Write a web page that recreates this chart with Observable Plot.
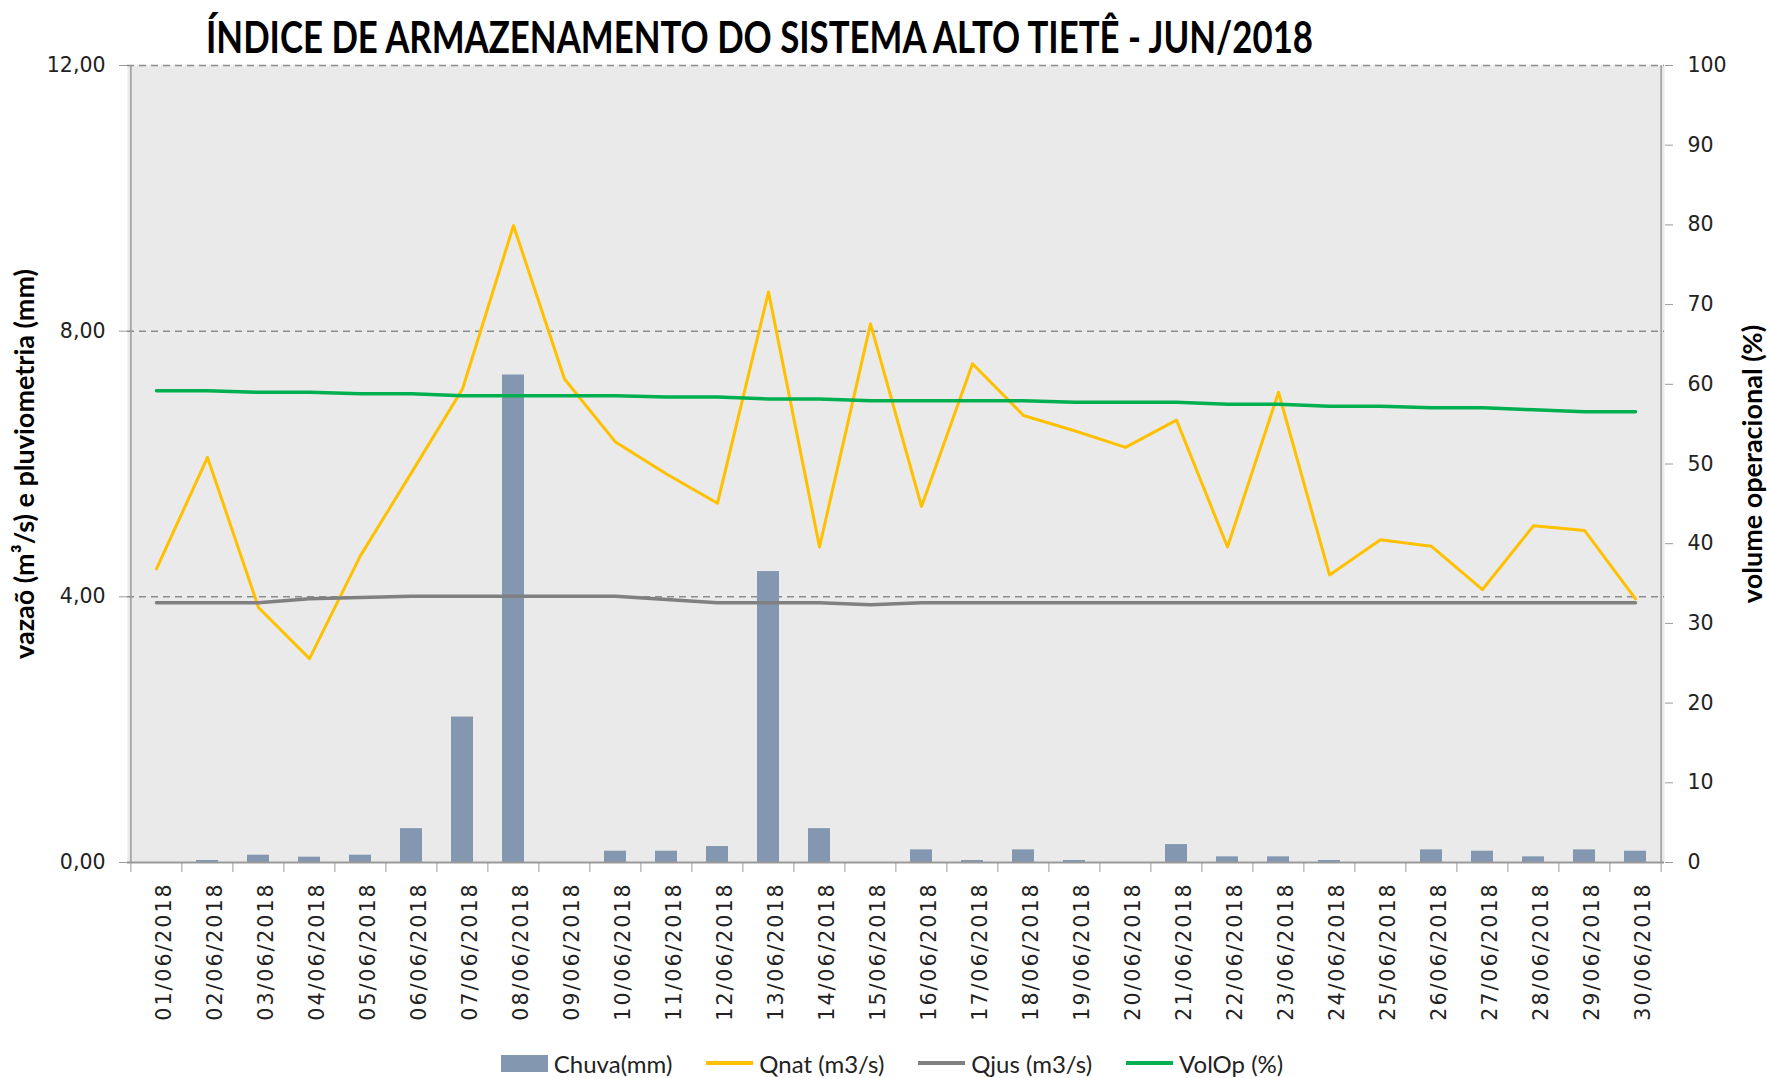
<!DOCTYPE html>
<html><head><meta charset="utf-8">
<script src="https://cdn.jsdelivr.net/npm/d3@7"></script>
<script src="https://cdn.jsdelivr.net/npm/@observablehq/plot@0.6"></script>
<style>
body{margin:0;background:#fff;}
#wrap{position:relative;width:1767px;height:1078px;overflow:hidden;background:#fff;}
#title{position:absolute;left:206px;top:14px;font-family:Lato,"Open Sans",sans-serif;font-weight:700;font-size:44px;white-space:nowrap;transform-origin:left top;color:#000;line-height:1;z-index:2;}
#chart{position:absolute;left:0;top:40px;}
#legend{position:absolute;left:0;top:1045px;width:1784px;height:36px;display:flex;justify-content:center;align-items:center;font-family:Lato,"Open Sans",sans-serif;font-size:24px;color:#222;}
.item{display:flex;align-items:center;margin:0 17px;}
.sw{width:47px;margin-right:6px;}
.dates text{letter-spacing:2px;}
</style></head>
<body>
<div id="wrap">
  <div id="title"></div>
  <div id="chart"></div>
  <div id="legend"></div>
</div>
<script>
const titleText = "ÍNDICE DE ARMAZENAMENTO DO SISTEMA ALTO TIETÊ - JUN/2018";
const leftLabel = "vazaõ (m³/s) e pluviometria (mm)";
const rightLabel = "volume operacional (%)";

const dates = ["01/06/2018","02/06/2018","03/06/2018","04/06/2018","05/06/2018","06/06/2018","07/06/2018","08/06/2018","09/06/2018","10/06/2018",
  "11/06/2018","12/06/2018","13/06/2018","14/06/2018","15/06/2018","16/06/2018","17/06/2018","18/06/2018","19/06/2018","20/06/2018",
  "21/06/2018","22/06/2018","23/06/2018","24/06/2018","25/06/2018","26/06/2018","27/06/2018","28/06/2018","29/06/2018","30/06/2018"];
const chuva = [0, 0.03, 0.11, 0.08, 0.11, 0.51, 2.19, 7.34, 0, 0.17, 0.17, 0.24, 4.38, 0.51, 0, 0.19, 0.03, 0.19, 0.03, 0, 0.27, 0.085, 0.085, 0.03, 0, 0.19, 0.17, 0.085, 0.19, 0.17];
const qnat = [4.42, 6.10, 3.84, 3.07, 4.62, 5.87, 7.13, 9.59, 7.28, 6.33, 5.85, 5.41, 8.59, 4.75, 8.11, 5.36, 7.51, 6.73, 6.50, 6.25, 6.66, 4.75, 7.08, 4.33, 4.86, 4.76, 4.11, 5.07, 5.00, 3.97];
const qjus = [3.91, 3.91, 3.91, 3.97, 3.99, 4.01, 4.01, 4.01, 4.01, 4.01, 3.96, 3.91, 3.91, 3.91, 3.88, 3.91, 3.91, 3.91, 3.91, 3.91, 3.91, 3.91, 3.91, 3.91, 3.91, 3.91, 3.91, 3.91, 3.91, 3.91];
const volop = [59.2, 59.2, 59.0, 59.0, 58.8, 58.8, 58.55, 58.55, 58.55, 58.55, 58.4, 58.4, 58.15, 58.15, 57.95, 57.95, 57.95, 57.95, 57.75, 57.75, 57.75, 57.5, 57.5, 57.25, 57.25, 57.05, 57.05, 56.8, 56.55, 56.55];
const leftTicks = [0, 4, 8, 12];
const rightTicks = [0, 10, 20, 30, 40, 50, 60, 70, 80, 90, 100];

const series = [
  {name: "Chuva(mm)", color: "#8497b0", type: "bar"},
  {name: "Qnat (m3/s)", color: "#ffc000", type: "line"},
  {name: "Qjus (m3/s)", color: "#808080", type: "line"},
  {name: "VolOp (%)", color: "#00b050", type: "line"}
];

const rows = dates.map((d, i) => ({date: d, chuva: chuva[i], qnat: qnat[i], qjus: qjus[i], volop: volop[i]}));
const k = 12 / 100; // right axis (0-100) onto left axis (0-12)

const W = 1767, H = 1005, ml = 127, mr = 103, mt = 25, mb = 183;
const step = (W - ml - mr) / dates.length;

const chart = Plot.plot({
  width: W, height: H,
  marginLeft: ml, marginRight: mr, marginTop: mt, marginBottom: mb,
  style: {fontFamily: "DejaVu Sans", fontSize: "20.5px", color: "#222", background: "transparent"},
  x: {type: "band", domain: dates, paddingInner: 0.57, paddingOuter: 0.285, axis: null},
  y: {domain: [0, 12], axis: null},
  marks: [
    Plot.frame({fill: "#eaeaea", stroke: null}),
    Plot.gridY([4, 8, 12], {stroke: "#8c8c8c", strokeOpacity: 1, strokeWidth: 1.5, strokeDasharray: "7,5"}),
    Plot.barY(rows, {x: "date", y: "chuva", fill: series[0].color}),
    Plot.lineY(rows, {x: "date", y: "qnat", stroke: series[1].color, strokeWidth: 3}),
    Plot.lineY(rows, {x: "date", y: "qjus", stroke: series[2].color, strokeWidth: 3.5}),
    Plot.lineY(rows, {x: "date", y: d => d.volop * k, stroke: series[3].color, strokeWidth: 3.5}),
    // axis lines
    Plot.ruleY([0], {stroke: "#9a9a9a", strokeWidth: 2}),
    Plot.ruleX([dates[0]], {y1: 0, y2: 12, dx: -step / 2, stroke: "#9a9a9a", strokeWidth: 1.5}),
    Plot.ruleX([dates[dates.length - 1]], {y1: 0, y2: 12, dx: step / 2, stroke: "#9a9a9a", strokeWidth: 1.5}),
    // left axis
    Plot.axisY(leftTicks, {anchor: "left", tickSize: 8, tickPadding: 14, stroke: "#9a9a9a",
      tickFormat: d => d.toFixed(2).replace(".", ","), fill: "#222", label: null}),
    // right axis
    Plot.axisY(rightTicks.map(t => t * k), {anchor: "right", tickSize: 8, tickPadding: 15, stroke: "#9a9a9a",
      tickFormat: d => String(Math.round(d / k)), fill: "#222", label: null}),
    // x ticks at category boundaries
    Plot.axisX(dates, {anchor: "bottom", tickSize: 10, dx: -step / 2, text: null, stroke: "#9a9a9a", label: null}),
    Plot.axisX([dates[dates.length - 1]], {anchor: "bottom", tickSize: 10, dx: step / 2, text: null, stroke: "#9a9a9a", label: null}),
    // date labels
    Plot.axisX(dates, {anchor: "bottom", tickSize: 0, tickPadding: 20, rotate: -90, textAnchor: "end", fill: "#222", label: null, className: "dates"}),
    // axis titles
    Plot.text([leftLabel], {frameAnchor: "left", textAnchor: "middle", dx: -102, rotate: -90, text: d => d, fontFamily: "Lato", fontWeight: "bold", fontSize: 27, fill: "#000"}),
    Plot.text([rightLabel], {frameAnchor: "right", textAnchor: "middle", dx: 89, rotate: -90, text: d => d, fontFamily: "Lato", fontWeight: "bold", fontSize: 27, fill: "#000"})
  ]
});
document.getElementById("chart").appendChild(chart);

// title
const t = document.getElementById("title");
t.textContent = titleText;
const tw = t.getBoundingClientRect().width;
t.style.transform = `scaleX(${1107 / tw})`;

// legend
const lg = document.getElementById("legend");
for (const s of series) {
  const it = document.createElement("div");
  it.className = "item";
  const sw = document.createElement("div");
  sw.className = "sw";
  if (s.type === "bar") { sw.style.height = "17px"; sw.style.background = s.color; }
  else { sw.style.height = "4px"; sw.style.background = s.color; }
  const tx = document.createElement("span");
  tx.textContent = s.name;
  it.appendChild(sw); it.appendChild(tx);
  lg.appendChild(it);
}
</script>
</body></html>
